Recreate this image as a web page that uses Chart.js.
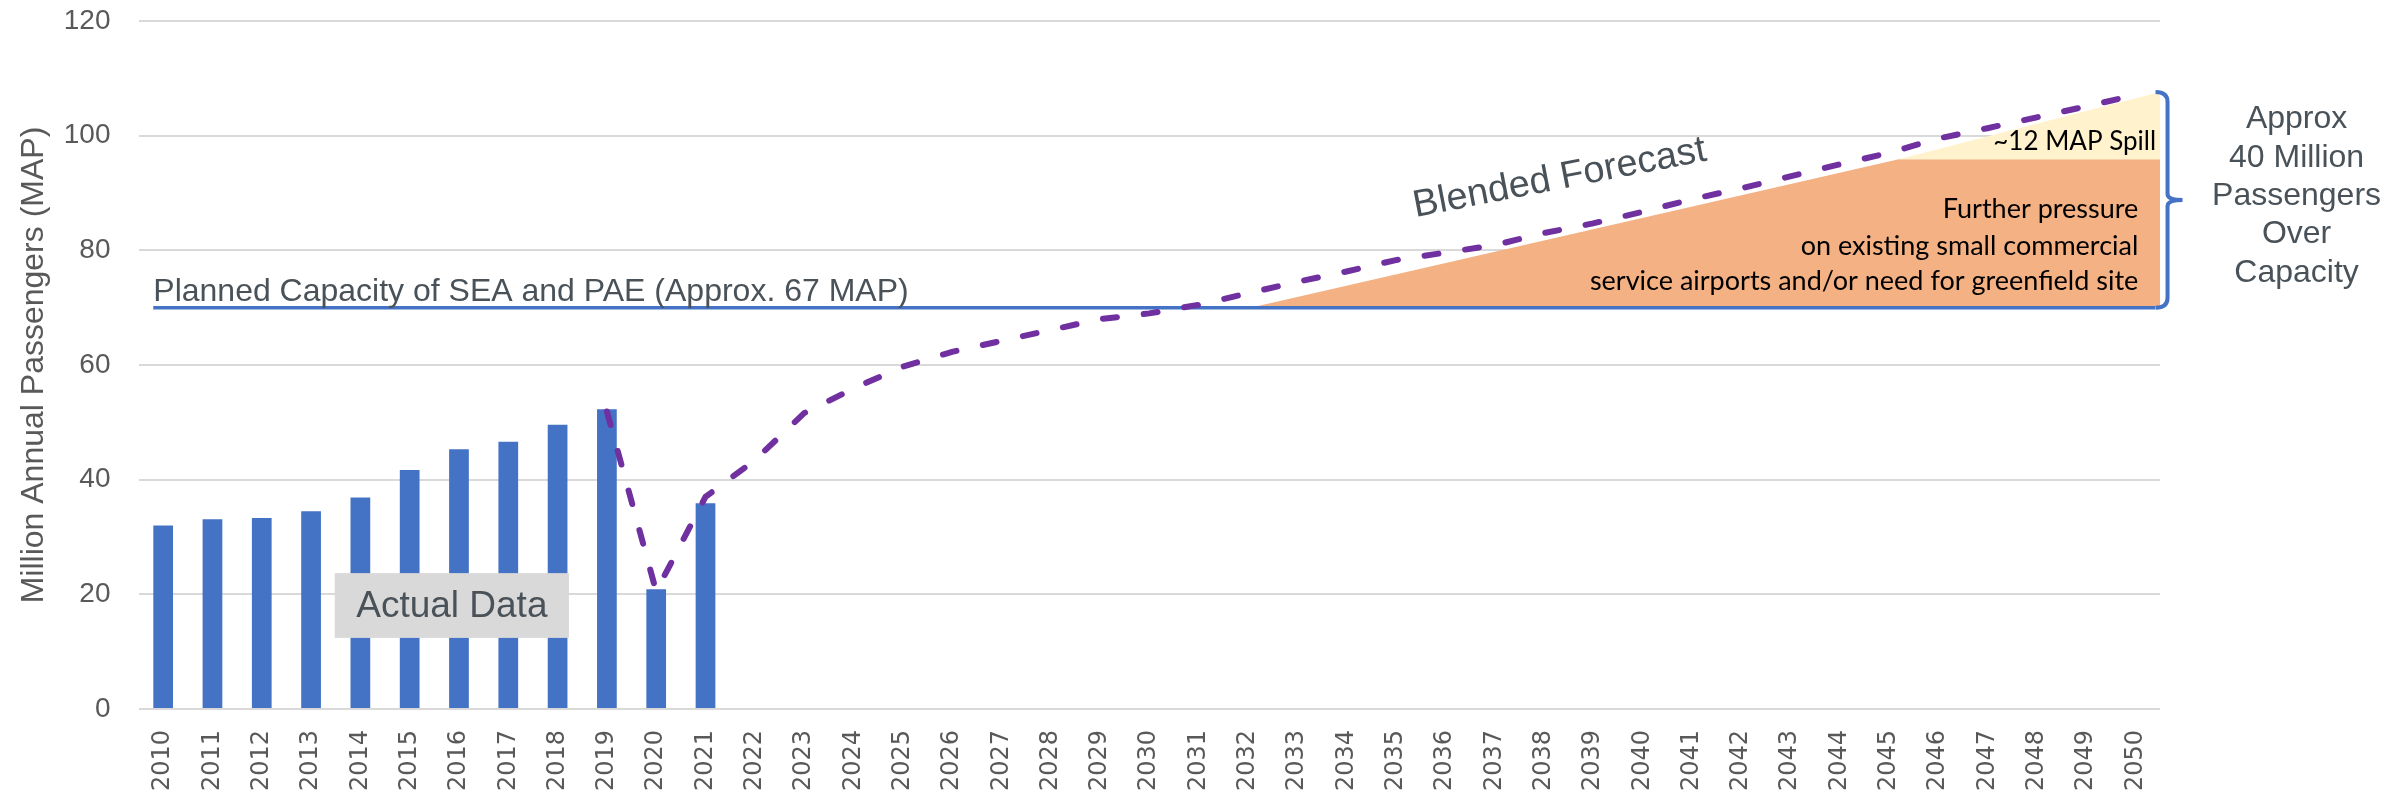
<!DOCTYPE html>
<html>
<head>
<meta charset="utf-8">
<title>SEA Passenger Forecast</title>
<script src="https://cdn.jsdelivr.net/npm/chart.js@4.4.1/dist/chart.umd.min.js"></script>
<style>
  html, body { margin: 0; padding: 0; background: #fff; }
  #wrap { width: 2389px; height: 798px; }
</style>
</head>
<body>
<div id="wrap"><canvas id="myChart"></canvas></div>
<script>
'use strict';

// DATA
var years = [2010, 2011, 2012, 2013, 2014, 2015, 2016, 2017, 2018, 2019,
  2020, 2021, 2022, 2023, 2024, 2025, 2026, 2027, 2028, 2029,
  2030, 2031, 2032, 2033, 2034, 2035, 2036, 2037, 2038, 2039,
  2040, 2041, 2042, 2043, 2044, 2045, 2046, 2047, 2048, 2049, 2050];

var actualYears = [2010, 2011, 2012, 2013, 2014, 2015, 2016, 2017, 2018, 2019, 2020, 2021];
var actualMAP = [32.0, 33.1, 33.3, 34.5, 36.9, 41.7, 45.3, 46.6, 49.6, 52.3, 20.9, 35.9];

var forecastYears = [2019, 2020, 2021, 2022, 2023, 2024, 2025, 2026, 2027, 2028,
  2029, 2030, 2031, 2032, 2033, 2034, 2035, 2036, 2037, 2038,
  2039, 2040, 2041, 2042, 2043, 2044, 2045, 2046, 2047, 2048, 2049, 2050];
var forecastMAP = [51.9, 20.5, 37.0, 43.4, 51.6, 55.9, 59.7, 62.3, 64.2, 66.1,
  68.0, 69.0, 70.5, 72.5, 74.5, 76.3, 78.3, 79.6, 80.9, 83.0,
  84.7, 86.7, 88.9, 90.8, 92.9, 95.0, 97.0, 99.5, 101.3, 103.2, 105.1, 107.1];

// planned capacity line (SEA + PAE)
var capacityYears = [2009.8, 2050.4];
var capacityMAP = [70, 70];

// demand over capacity, split in pressure and spill
var pressureYears = [2032.05, 2045.2, 2050.5];
var pressureMAP = [70, 95.9, 95.9];
var spillYears = [2045.2, 2050.5];
var spillMAP = [95.9, 107.6];

var yTicks = [0, 20, 40, 60, 80, 100, 120];

var GRAY_TEXT = '#4a5259';

//TURN TWO LISTS INTO {x, y} POINTS
function pairs(xs, ys) {
  var out = [];
  for (var i = 0; i < xs.length; i++) {
    out.push({ x: xs[i], y: ys[i] });
  }
  return out;
}

//TEXT AND BRACKET ON TOP OF THE DATA
var annotations = {
  id: 'annotations',
  afterDatasetsDraw: function(chart) {
    var ctx = chart.ctx;
    var xs = chart.scales.x;
    var ys = chart.scales.y;
    function px(v) { return xs.getPixelForValue(v); }
    function py(v) { return ys.getPixelForValue(v); }

    ctx.save();

    // capacity label
    ctx.fillStyle = GRAY_TEXT;
    ctx.font = '32px "Liberation Sans", Arial, sans-serif';
    ctx.textAlign = 'left';
    ctx.textBaseline = 'alphabetic';
    ctx.fillText('Planned Capacity of SEA and PAE (Approx. 67 MAP)', px(2009.8), py(71.2));

    // blended forecast label
    ctx.save();
    ctx.translate(px(2035.4), py(85.8));
    ctx.rotate(-11 * Math.PI / 180);
    ctx.font = '38px "Liberation Sans", Arial, sans-serif';
    ctx.fillText('Blended Forecast', 0, 0);
    ctx.restore();

    // actual data box
    var bx1 = px(2013.48), bx2 = px(2018.23);
    var by1 = py(23.7), by2 = py(12.4);
    ctx.fillStyle = '#d9d9d9';
    ctx.fillRect(bx1, by1, bx2 - bx1, by2 - by1);
    ctx.fillStyle = GRAY_TEXT;
    ctx.font = '37px "Liberation Sans", Arial, sans-serif';
    ctx.textAlign = 'center';
    ctx.textBaseline = 'middle';
    ctx.fillText('Actual Data', (bx1 + bx2) / 2, (by1 + by2) / 2 + 1);

    // spill + pressure text inside the areas
    ctx.fillStyle = '#000';
    ctx.textAlign = 'right';
    ctx.textBaseline = 'alphabetic';
    ctx.font = '26px Lato, "Noto Sans", sans-serif';
    ctx.fillText('~12 MAP Spill', px(2050.42), py(97.5));
    ctx.font = '27px Lato, "Noto Sans", sans-serif';
    ctx.fillText('Further pressure', px(2050.06), py(85.65));
    ctx.fillText('on existing small commercial', px(2050.06), py(79.2));
    ctx.fillText('service airports and/or need for greenfield site', px(2050.06), py(73.1));

    // bracket
    var R = px(2050.45);
    var top = py(107.6);
    var bot = py(70);
    var mid = (top + bot) / 2;
    ctx.strokeStyle = '#4472c4';
    ctx.lineWidth = 4;
    ctx.beginPath();
    ctx.moveTo(R - 2, top);
    ctx.quadraticCurveTo(R + 10, top, R + 10, top + 10);
    ctx.lineTo(R + 10, mid - 6);
    ctx.quadraticCurveTo(R + 10, mid, R + 25, mid);
    ctx.moveTo(R + 25, mid);
    ctx.quadraticCurveTo(R + 10, mid, R + 10, mid + 6);
    ctx.lineTo(R + 10, bot - 10);
    ctx.quadraticCurveTo(R + 10, bot, R - 2, bot);
    ctx.stroke();

    // right side note
    var noteLines = ['Approx', '40 Million', 'Passengers', 'Over', 'Capacity'];
    var noteY = [101.3, 94.6, 87.9, 81.2, 74.4];
    ctx.fillStyle = GRAY_TEXT;
    ctx.font = '32px "Liberation Sans", Arial, sans-serif';
    ctx.textAlign = 'center';
    for (var i = 0; i < noteLines.length; i++) {
      ctx.fillText(noteLines[i], px(2053.27), py(noteY[i]));
    }

    ctx.restore();
  }
};

var ctx = document.getElementById('myChart');
var myChart = new Chart(ctx, {
  type: 'bar',
  data: {
    datasets: [
      {
        type: 'line',
        label: 'Blended Forecast',
        data: pairs(forecastYears, forecastMAP),
        borderColor: '#7030a0',
        borderWidth: 6,
        borderDash: [14, 27],
        borderCapStyle: 'round',
        pointRadius: 0,
        tension: 0,
        fill: false,
        order: 0
      },
      {
        label: 'Actual',
        data: pairs(actualYears, actualMAP),
        backgroundColor: '#4472c4',
        barPercentage: 0.4,
        categoryPercentage: 1,
        order: 2
      },
      {
        type: 'line',
        label: 'Capacity',
        data: pairs(capacityYears, capacityMAP),
        borderColor: '#4472c4',
        borderWidth: 3.5,
        pointRadius: 0,
        fill: false,
        order: 3
      },
      {
        type: 'line',
        label: 'Pressure',
        data: pairs(pressureYears, pressureMAP),
        borderWidth: 0,
        borderColor: 'rgba(0,0,0,0)',
        backgroundColor: '#f4b183',
        pointRadius: 0,
        fill: { value: 70 },
        order: 5
      },
      {
        type: 'line',
        label: 'Spill',
        data: pairs(spillYears, spillMAP),
        borderWidth: 0,
        borderColor: 'rgba(0,0,0,0)',
        backgroundColor: '#fff2cc',
        pointRadius: 0,
        fill: { value: 95.9 },
        order: 4
      }
    ]
  },
  options: {
    responsive: true,
    maintainAspectRatio: false,
    devicePixelRatio: 1,
    animation: false,
    layout: { padding: { top: 21, right: 229, bottom: 0, left: 0 } },
    plugins: {
      legend: { display: false },
      tooltip: { enabled: false }
    },
    scales: {
      x: {
        type: 'linear',
        min: 2009.5,
        max: 2050.5,
        offset: false,
        afterBuildTicks: function(scale) {
          scale.ticks = years.map(function(v) { return { value: v }; });
        },
        afterFit: function(scale) { scale.height = 89; },
        grid: { display: false, drawTicks: false },
        border: { display: false },
        ticks: {
          autoSkip: false,
          minRotation: 90,
          maxRotation: 90,
          padding: 21,
          color: '#595959',
          font: { family: '"DejaVu Sans"', size: 24 },
          callback: function(v) { return String(v); }
        }
      },
      y: {
        min: 0,
        max: 120,
        afterBuildTicks: function(scale) {
          scale.ticks = yTicks.map(function(v) { return { value: v }; });
        },
        afterFit: function(scale) { scale.width = 138.5; },
        // invisible tick marks give the gap between labels and plot
        grid: { color: '#d9d9d9', lineWidth: 2, drawTicks: true, tickLength: 25, tickColor: 'rgba(0,0,0,0)' },
        border: { display: false },
        ticks: {
          padding: 3,
          color: '#595959',
          font: { family: '"Liberation Sans", Arial', size: 28 }
        },
        title: {
          display: true,
          text: 'Million Annual Passengers (MAP)',
          color: '#595959',
          font: { family: '"Liberation Sans", Arial', size: 32 },
          padding: { top: 15, bottom: 0 }
        }
      }
    }
  },
  plugins: [annotations]
});
</script>
</body>
</html>
